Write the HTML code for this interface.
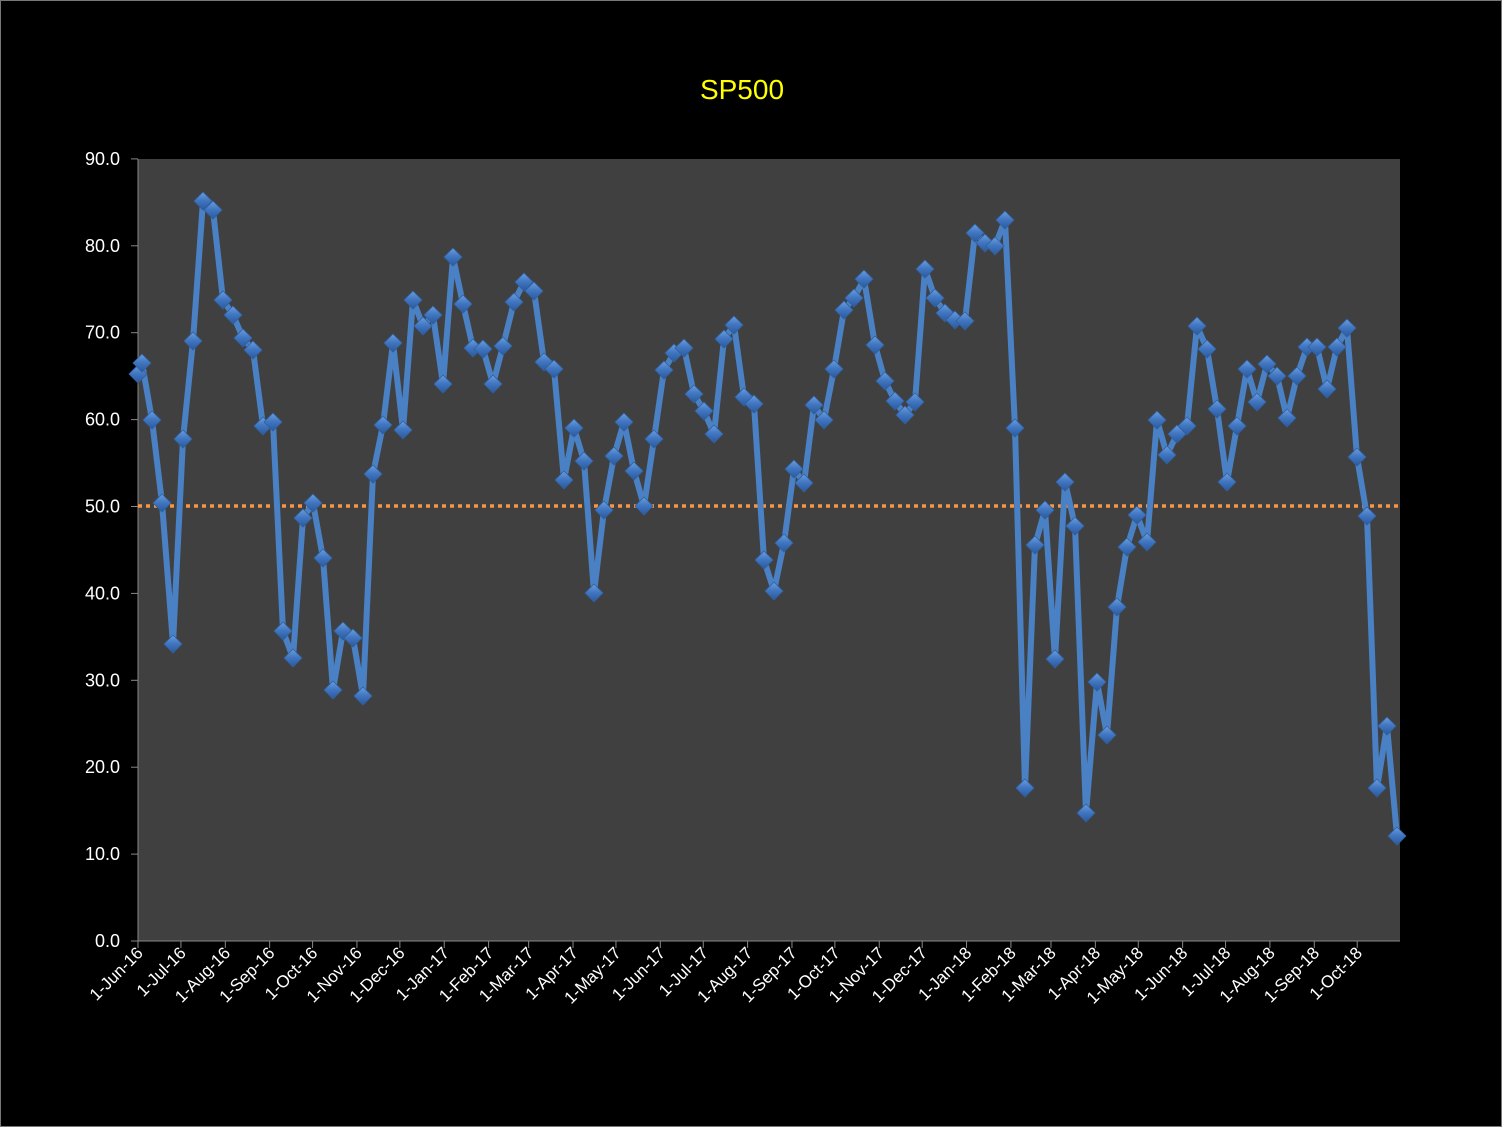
<!DOCTYPE html>
<html><head><meta charset="utf-8"><style>
html,body{margin:0;padding:0;background:#000;}
svg{display:block;font-family:"Liberation Sans",sans-serif;}
</style></head><body>
<svg id="s" width="1502" height="1127" viewBox="0 0 1502 1127" xmlns="http://www.w3.org/2000/svg">
<defs>
<linearGradient id="dg" x1="0" y1="0" x2="0" y2="1">
<stop offset="0" stop-color="#6a9ee0"/><stop offset="0.5" stop-color="#3f74bf"/><stop offset="1" stop-color="#2b5a9c"/>
</linearGradient>
</defs>
<rect x="0.5" y="0.5" width="1501" height="1126" fill="#000" stroke="#777" stroke-width="1"/>
<text x="742" y="99" fill="#ffff00" font-size="28" text-anchor="middle">SP500</text>
<rect x="138" y="159" width="1262" height="782" fill="#404040"/>
<g id="axes"></g>
<line x1="138" y1="506" x2="1400" y2="506" stroke="#f79646" stroke-width="3.5" stroke-dasharray="4,4"/>
<polyline id="ln" fill="none" stroke="#4a80c4" stroke-width="6" stroke-linejoin="round"/>
<g id="mk"></g>
</svg>
<script>
var pts=[[138,374],[142,363],[152,420],[162,503],[173,644],[183,439],[193,341],[203,201],[213,210],[223,300],[233,315],[243,338],[253,350],[263,426],[273,422],[283,631],[293,658],[303,518],[313,503],[323,558],[333,690],[343,631],[353,638],[363,696],[373,474],[383,425],[393,343],[403,430],[413,300],[423,326],[433,315],[443,384],[453,257],[463,304],[473,348],[483,349],[493,384],[503,346],[514,302],[524,282],[534,291],[544,362],[554,369],[564,480],[574,428],[584,461],[594,593],[604,510],[614,456],[624,422],[634,471],[644,506],[654,439],[664,370],[674,353],[684,348],[694,394],[704,411],[714,434],[724,339],[734,325],[744,397],[754,404],[764,560],[774,591],[784,543],[794,469],[804,483],[814,405],[824,420],[834,369],[844,310],[854,298],[864,279],[875,345],[885,381],[895,401],[905,415],[915,402],[925,269],[935,298],[945,313],[955,320],[965,321],[975,233],[985,243],[995,246],[1005,220],[1015,428],[1025,788],[1035,545],[1045,510],[1055,659],[1065,482],[1075,526],[1086,813],[1097,682],[1107,735],[1117,607],[1127,547],[1137,515],[1147,542],[1157,420],[1167,455],[1177,434],[1187,426],[1197,326],[1207,349],[1217,409],[1227,482],[1237,426],[1247,369],[1257,402],[1267,364],[1277,376],[1287,418],[1297,376],[1307,347],[1317,347],[1327,389],[1337,347],[1347,328],[1357,457],[1367,516],[1377,788],[1387,726],[1397,836]];
var NS="http://www.w3.org/2000/svg";
function el(t,a,p,txt){var e=document.createElementNS(NS,t);for(var k in a)e.setAttribute(k,a[k]);if(txt)e.textContent=txt;p.appendChild(e);return e;}
document.getElementById('ln').setAttribute('points',pts.map(function(p){return p.join(',')}).join(' '));
var mk=document.getElementById('mk');
pts.forEach(function(p){var x=p[0],y=p[1];
el('polygon',{points:(x)+','+(y-9)+' '+(x+9)+','+y+' '+x+','+(y+9)+' '+(x-9)+','+y,fill:'url(#dg)',stroke:'#2f5f9e','stroke-width':'0.8'},mk);});
var ax=document.getElementById('axes');
el('line',{x1:138,y1:159,x2:138,y2:941,stroke:'#888','stroke-width':1},ax);
el('line',{x1:131,y1:941,x2:1400,y2:941,stroke:'#888','stroke-width':1},ax);
for(var i=0;i<=9;i++){var y=941-i*86.9;
el('line',{x1:131,y1:y,x2:138,y2:y,stroke:'#888'},ax);
el('text',{x:120,y:y+6,fill:'#fff','font-size':'18','text-anchor':'end'},ax,(i*10).toFixed(1));}
var months=['Jun','Jul','Aug','Sep','Oct','Nov','Dec','Jan','Feb','Mar','Apr','May'];
var start=Date.UTC(2016,5,1);
for(var m=0;m<29;m++){var yr=2016+Math.floor((5+m)/12),mo=(5+m)%12;
var d=(Date.UTC(yr,mo,1)-start)/86400000;var x=138+d*1.431;
el('line',{x1:x,y1:941,x2:x,y2:948,stroke:'#888'},ax);
var lab='1-'+months[m%12]+'-'+String(yr).slice(2);
el('text',{x:x+6,y:954,fill:'#fff','font-size':'17','text-anchor':'end',transform:'rotate(-45 '+(x+6)+' 954)'},ax,lab);}
</script>
</body></html>
